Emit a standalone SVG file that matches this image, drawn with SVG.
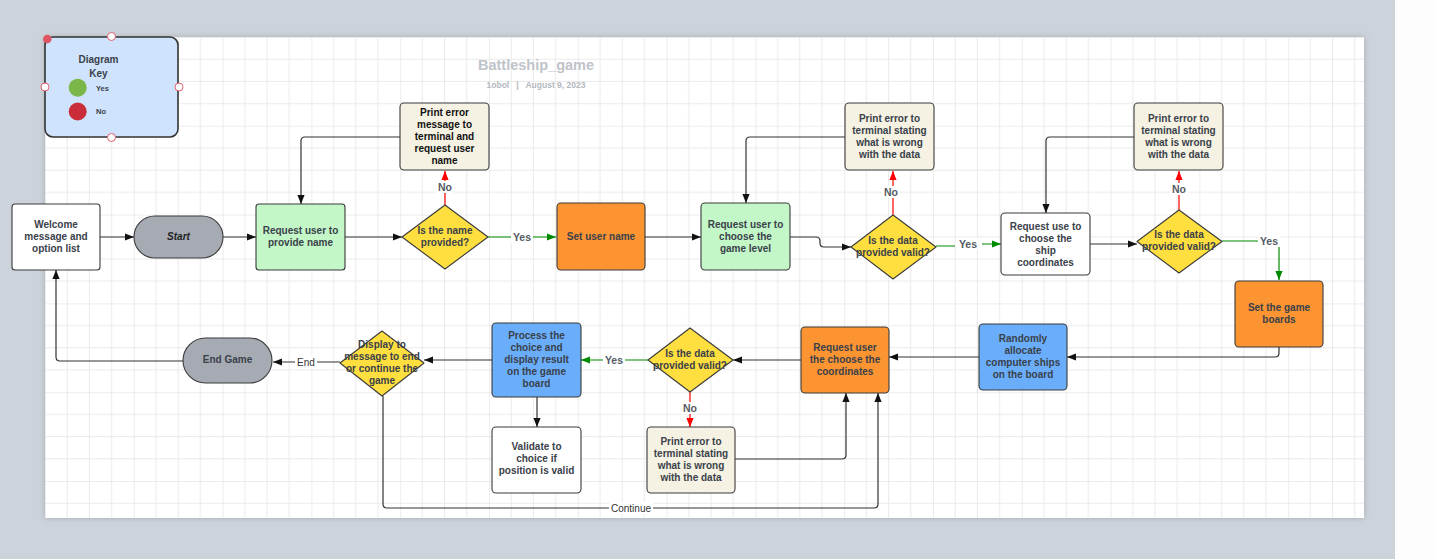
<svg xmlns="http://www.w3.org/2000/svg" width="1435" height="559" viewBox="0 0 1435 559">
<style>
.t{font-family:"Liberation Sans",Arial,sans-serif;font-weight:bold;font-size:10px;fill:#3a414a;text-anchor:middle}
.n{stroke:#3a3a3a;stroke-width:1.1}
.c{fill:none;stroke:#333;stroke-width:1.2}
.r{fill:none;stroke:#f00;stroke-width:1.2}
.g{fill:none;stroke:#008a00;stroke-width:1.2}
.lb{font-family:"Liberation Sans",Arial,sans-serif;font-weight:bold;font-size:10.5px;fill:#555b63;text-anchor:middle}
.lbd{font-family:"Liberation Sans",Arial,sans-serif;font-size:10px;fill:#333;text-anchor:middle}
.h{fill:#fff;stroke:#e0606e;stroke-width:1}
</style>
<defs>
<pattern id="grid" patternUnits="userSpaceOnUse" x="45" y="37" width="88.8" height="88.8">
<path d="M22.2,0V88.8M44.4,0V88.8M66.6,0V88.8M0,22.2H88.8M0,44.4H88.8M0,66.6H88.8" stroke="#eaeaea" stroke-width="1" fill="none"/>
<path d="M0,0V88.8M0,0H88.8" stroke="#dcdcdc" stroke-width="1" fill="none"/>
</pattern>
<filter id="sh" x="-5%" y="-5%" width="110%" height="110%"><feDropShadow dx="0" dy="0" stdDeviation="3" flood-color="#8a929c" flood-opacity="0.6"/></filter>
<marker id="ak" viewBox="0 0 10 10" refX="10" refY="5" markerWidth="10" markerHeight="9" markerUnits="userSpaceOnUse" orient="auto"><path d="M0,1L10,5L0,9z" fill="#111"/></marker>
<marker id="ar" viewBox="0 0 10 10" refX="10" refY="5" markerWidth="10" markerHeight="9" markerUnits="userSpaceOnUse" orient="auto"><path d="M0,1L10,5L0,9z" fill="#f00"/></marker>
<marker id="ag" viewBox="0 0 10 10" refX="10" refY="5" markerWidth="10" markerHeight="9" markerUnits="userSpaceOnUse" orient="auto"><path d="M0,1L10,5L0,9z" fill="#008a00"/></marker>
</defs>
<rect x="0" y="0" width="1435" height="559" fill="#fdfdfd"/>
<rect x="0" y="0" width="1395" height="559" fill="#cdd3da"/>
<rect x="45" y="37" width="1319" height="481" fill="#fff" filter="url(#sh)"/>
<rect x="45" y="37" width="1319" height="481" fill="url(#grid)"/>
<text x="536" y="70" style="font-family:'Liberation Sans',Arial,sans-serif;font-weight:bold;font-size:14.5px;fill:#bfc3ca;text-anchor:middle">Battleship_game</text>
<text x="536" y="88" style="font-family:'Liberation Sans',Arial,sans-serif;font-weight:bold;font-size:8.5px;fill:#b4b8bf;text-anchor:middle" xml:space="preserve">1obol   |   August 9, 2023</text>

<g id="key">
<rect x="45" y="37" width="133" height="100" rx="8" fill="#cfe3fc" stroke="#333" stroke-width="1.6"/>
<text class="t" x="98.5" y="63">Diagram</text>
<text class="t" x="98.5" y="76.5">Key</text>
<circle cx="77.7" cy="87.7" r="9" fill="#7ab648"/>
<text x="96" y="90.5" style="font-family:'Liberation Sans',Arial,sans-serif;font-weight:bold;font-size:7.5px;fill:#3a414a">Yes</text>
<circle cx="77.7" cy="111.5" r="9" fill="#c92d39"/>
<text x="96" y="114" style="font-family:'Liberation Sans',Arial,sans-serif;font-weight:bold;font-size:7.5px;fill:#3a414a">No</text>
<circle cx="47.3" cy="39" r="4.3" fill="#e05563"/>
<circle class="h" cx="111.5" cy="36.5" r="4"/>
<circle class="h" cx="45" cy="87" r="4"/>
<circle class="h" cx="179" cy="87" r="4"/>
<circle class="h" cx="111.5" cy="137.5" r="4"/>
</g>

<g id="connectors">
<path class="c" d="M100,237H134" marker-end="url(#ak)"/>
<path class="c" d="M223,237H256" marker-end="url(#ak)"/>
<path class="c" d="M345,237H402" marker-end="url(#ak)"/>
<path class="r" d="M445,205V171" marker-end="url(#ar)"/>
<path class="c" d="M400,137H305Q301,137 301,141V204" marker-end="url(#ak)"/>
<path class="g" d="M488,237H556" marker-end="url(#ag)"/>
<path class="c" d="M645,237H701" marker-end="url(#ak)"/>
<path class="c" d="M790,237H816Q820,237 820,241V243Q820,247 824,247H851" marker-end="url(#ak)"/>
<path class="r" d="M893,215V171" marker-end="url(#ar)"/>
<path class="c" d="M845,137H750Q746,137 746,141V203" marker-end="url(#ak)"/>
<path class="g" d="M936,246H955M982,244H1001" marker-end="url(#ag)"/>
<path class="c" d="M1090,244H1137" marker-end="url(#ak)"/>
<path class="r" d="M1179,210V171" marker-end="url(#ar)"/>
<path class="c" d="M1134,137H1050Q1046,137 1046,141V213" marker-end="url(#ak)"/>
<path class="g" d="M1222,241H1275Q1279,241 1279,245V280" marker-end="url(#ag)"/>
<path class="c" d="M1279,347V353Q1279,357 1275,357H1067" marker-end="url(#ak)"/>
<path class="c" d="M979,357H889" marker-end="url(#ak)"/>
<path class="c" d="M801,360H733" marker-end="url(#ak)"/>
<path class="r" d="M690,392V427" marker-end="url(#ar)"/>
<path class="c" d="M735,459H842Q846,459 846,455V393" marker-end="url(#ak)"/>
<path class="g" d="M648,360H581" marker-end="url(#ag)"/>
<path class="c" d="M492,360H424" marker-end="url(#ak)"/>
<path class="c" d="M537,397V427" marker-end="url(#ak)"/>
<path class="c" d="M340,362H273" marker-end="url(#ak)"/>
<path class="c" d="M183,361H60Q56,361 56,357V270" marker-end="url(#ak)"/>
<path class="c" d="M383,396V504Q383,508 387,508H874Q878,508 878,504V393" marker-end="url(#ak)"/>
<rect x="436" y="181" width="18" height="12" fill="#fff"/><text class="lb" x="445" y="191">No</text>
<rect x="511" y="231" width="22" height="12" fill="#fff"/><text class="lb" x="522" y="241">Yes</text>
<rect x="882" y="186" width="18" height="12" fill="#fff"/><text class="lb" x="891" y="196">No</text>
<rect x="957" y="238" width="22" height="12" fill="#fff"/><text class="lb" x="968" y="248">Yes</text>
<rect x="1170" y="183" width="18" height="12" fill="#fff"/><text class="lb" x="1179" y="193">No</text>
<rect x="1258" y="235" width="22" height="12" fill="#fff"/><text class="lb" x="1269" y="245">Yes</text>
<rect x="681" y="402" width="18" height="12" fill="#fff"/><text class="lb" x="690" y="412">No</text>
<rect x="603" y="354" width="22" height="12" fill="#fff"/><text class="lb" x="614" y="364">Yes</text>
<rect x="295" y="356" width="22" height="12" fill="#fff"/><text class="lbd" x="306" y="366">End</text>
<rect x="609" y="502" width="44" height="12" fill="#fff"/><text class="lbd" x="631" y="512">Continue</text>
</g>

<g id="welcome"><rect class="n" x="12" y="204" width="88" height="66" rx="3" fill="#fff"/>
<text class="t" x="56" y="228">Welcome</text><text class="t" x="56" y="240">message and</text><text class="t" x="56" y="252">option list</text></g>
<g id="start"><rect class="n" x="134" y="216" width="89" height="42" rx="21" fill="#a5aab3"/>
<text class="t" x="178.5" y="240" font-style="italic" style="fill:#222">Start</text></g>
<g id="req-name"><rect class="n" x="256" y="204" width="89" height="66" rx="3" fill="#c3f7c8"/>
<text class="t" x="300.5" y="233.5">Request user to</text><text class="t" x="300.5" y="245.5">provide name</text></g>
<g id="dec-name"><path class="n" d="M445,205L488,237L445,269L402,237Z" fill="#ffdf3f" stroke-linejoin="round"/>
<text class="t" x="445" y="233.5">Is the name</text><text class="t" x="445" y="245.5">provided?</text></g>
<g id="err-name"><rect class="n" x="400" y="103" width="89" height="67" rx="4" fill="#f5f2e3"/>
<text class="t" x="444.5" y="115.5" style="fill:#111">Print error</text><text class="t" x="444.5" y="127.5" style="fill:#111">message to</text><text class="t" x="444.5" y="139.5" style="fill:#111">terminal and</text><text class="t" x="444.5" y="151.5" style="fill:#111">request user</text><text class="t" x="444.5" y="163.5" style="fill:#111">name</text></g>
<g id="set-name"><rect class="n" x="557" y="203" width="88" height="67" rx="4" fill="#fc9432"/>
<text class="t" x="601" y="239.5">Set user name</text></g>
<g id="req-level"><rect class="n" x="701" y="203" width="89" height="67" rx="4" fill="#c3f7c8"/>
<text class="t" x="745.5" y="227.5">Request user to</text><text class="t" x="745.5" y="239.5">choose the</text><text class="t" x="745.5" y="251.5">game level</text></g>
<g id="dec-level"><path class="n" d="M893,215L936,247L893,279L851,247Z" fill="#ffdf3f" stroke-linejoin="round"/>
<text class="t" x="893" y="243.5">Is the data</text><text class="t" x="893" y="255.5">provided valid?</text></g>
<g id="err-level"><rect class="n" x="845" y="103" width="89" height="67" rx="4" fill="#f5f2e3"/>
<text class="t" x="889.5" y="121.5">Print error to</text><text class="t" x="889.5" y="133.5">terminal stating</text><text class="t" x="889.5" y="145.5">what is wrong</text><text class="t" x="889.5" y="157.5">with the data</text></g>
<g id="req-ship"><rect class="n" x="1001" y="213" width="89" height="62" rx="4" fill="#fff"/>
<text class="t" x="1045.5" y="229.5">Request use to</text><text class="t" x="1045.5" y="241.5">choose the</text><text class="t" x="1045.5" y="253.5">ship</text><text class="t" x="1045.5" y="265.5">coordinates</text></g>
<g id="dec-ship"><path class="n" d="M1179,210L1222,241.5L1179,273L1137,241.5Z" fill="#ffdf3f" stroke-linejoin="round"/>
<text class="t" x="1179" y="237.5">Is the data</text><text class="t" x="1179" y="249.5">provided valid?</text></g>
<g id="err-ship"><rect class="n" x="1134" y="103" width="89" height="67" rx="4" fill="#f5f2e3"/>
<text class="t" x="1178.5" y="121.5">Print error to</text><text class="t" x="1178.5" y="133.5">terminal stating</text><text class="t" x="1178.5" y="145.5">what is wrong</text><text class="t" x="1178.5" y="157.5">with the data</text></g>
<g id="set-boards"><rect class="n" x="1235" y="281" width="88" height="66" rx="4" fill="#fc9432"/>
<text class="t" x="1279" y="310.5">Set the game</text><text class="t" x="1279" y="322.5">boards</text></g>
<g id="random"><rect class="n" x="979" y="324" width="88" height="66" rx="4" fill="#6aaefb"/>
<text class="t" x="1023" y="341.5">Randomly</text><text class="t" x="1023" y="353.5">allocate</text><text class="t" x="1023" y="365.5">computer ships</text><text class="t" x="1023" y="377.5">on the board</text></g>
<g id="req-coords"><rect class="n" x="801" y="327" width="88" height="66" rx="4" fill="#fc9432"/>
<text class="t" x="845" y="350.5">Request user</text><text class="t" x="845" y="362.5">the choose the</text><text class="t" x="845" y="374.5">coordinates</text></g>
<g id="dec-coords"><path class="n" d="M690,328L733,360L690,392L648,360Z" fill="#ffdf3f" stroke-linejoin="round"/>
<text class="t" x="690" y="356.5">Is the data</text><text class="t" x="690" y="368.5">provided valid?</text></g>
<g id="err-coords"><rect class="n" x="647" y="427" width="88" height="66" rx="4" fill="#f5f2e3"/>
<text class="t" x="691" y="444.5">Print error to</text><text class="t" x="691" y="456.5">terminal stating</text><text class="t" x="691" y="468.5">what is wrong</text><text class="t" x="691" y="480.5">with the data</text></g>
<g id="process"><rect class="n" x="492" y="323" width="89" height="74" rx="4" fill="#6aaefb"/>
<text class="t" x="536.5" y="338.5">Process the</text><text class="t" x="536.5" y="350.5">choice and</text><text class="t" x="536.5" y="362.5">display result</text><text class="t" x="536.5" y="374.5">on the game</text><text class="t" x="536.5" y="386.5">board</text></g>
<g id="validate"><rect class="n" x="492" y="427" width="89" height="66" rx="4" fill="#fff"/>
<text class="t" x="536.5" y="449.5">Validate to</text><text class="t" x="536.5" y="461.5">choice if</text><text class="t" x="536.5" y="473.5">position is valid</text></g>
<g id="display"><path class="n" d="M382,331L424,363L382,396L340,363Z" fill="#ffdf3f" stroke-linejoin="round"/>
<text class="t" x="382" y="347.5">Display to</text><text class="t" x="382" y="359.5">message to end</text><text class="t" x="382" y="371.5">or continue the</text><text class="t" x="382" y="383.5">game</text></g>
<g id="end"><rect class="n" x="183" y="338" width="89" height="45" rx="22.5" fill="#a5aab3"/>
<text class="t" x="227.5" y="362.5">End Game</text></g>
</svg>
